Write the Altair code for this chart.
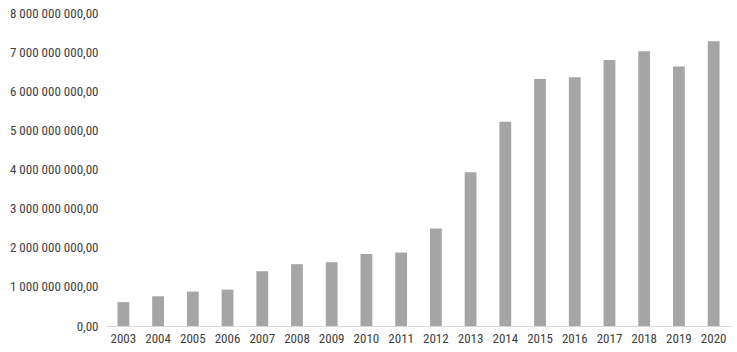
import altair as alt
import pandas as pd

years = [str(y) for y in range(2003, 2021)]
values = [0.61e9, 0.76e9, 0.88e9, 0.93e9, 1.40e9, 1.58e9, 1.63e9, 1.84e9, 1.88e9,
          2.49e9, 3.93e9, 5.22e9, 6.31e9, 6.36e9, 6.80e9, 7.02e9, 6.63e9, 7.28e9]
y_ticks = [i * 1e9 for i in range(0, 9)]

df = pd.DataFrame({"year": years, "value": values})

label_expr = "replace(replace(format(datum.value, ',.2f'), regexp(',', 'g'), ' '), '.', ',')"
FONT = "Liberation Sans Narrow, Roboto Condensed, DejaVu Sans Condensed, sans-serif"

chart = alt.Chart(df).mark_bar(color="#a5a5a5").encode(
    x=alt.X("year:N", title=None, sort=years,
            scale=alt.Scale(paddingInner=0.66, paddingOuter=0.33),
            axis=alt.Axis(labelAngle=0, ticks=False, domainColor="#d9d9d9",
                          labelPadding=6, labelFontSize=13, labelColor="#404040",
                          labelFont=FONT)),
    y=alt.Y("value:Q", title=None, scale=alt.Scale(domain=[0, 8e9], nice=False),
            axis=alt.Axis(values=y_ticks, grid=False, domain=False, ticks=False,
                          labelPadding=8, labelExpr=label_expr, labelFontSize=13,
                          labelColor="#404040", labelFont=FONT)),
).properties(
    width=625, height=313,
    autosize=alt.AutoSizeParams(type="none"),
    padding={"left": 106, "top": 13, "right": 6, "bottom": 26},
).configure_view(stroke=None)

chart.save("out.html", embed_options={"renderer": "svg", "actions": False})
